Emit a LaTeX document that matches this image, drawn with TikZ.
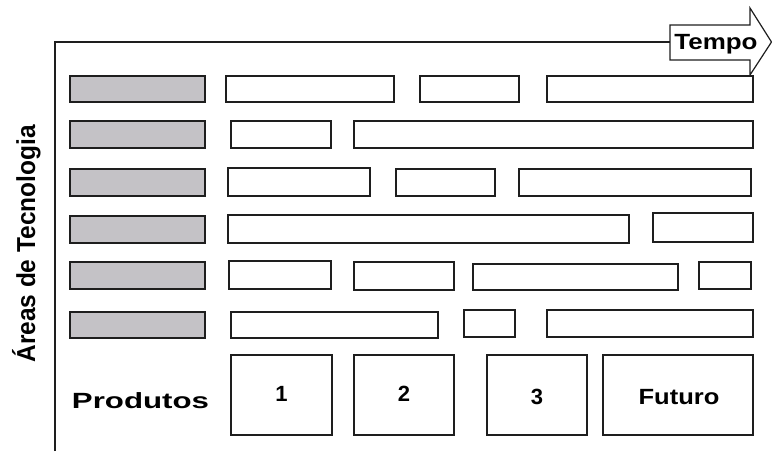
\documentclass[tikz,border=0pt]{standalone}
\usepackage{fontspec}
\usepackage{graphicx}
\setmainfont{Liberation Sans}
\definecolor{barfill}{RGB}{196,194,198}
\definecolor{ink}{RGB}{30,30,30}
\newcommand\mybox[6]{\node[#1, minimum width={(#4-#3)*1pt}, minimum height={(#6-#5)*1pt}] (#2) at ({(#3+#4)/2},{(#5+#6)/2}) {};}
\begin{document}
\begin{tikzpicture}[x=1pt,y=-1pt,
  bar/.style={draw=ink, line width=1.6pt, fill=white, inner sep=0pt, outer sep=0pt},
  gbar/.style={bar, fill=barfill},
  lbl/.style={inner sep=0pt, anchor=base, text=black, font=\bfseries\fontsize{22}{22}\selectfont}]
\useasboundingbox (0,0) rectangle (772,451);
% frame
\coordinate (corner) at (55,42);
\coordinate (bottom) at (55,451);
% arrow
\draw[draw=ink, line width=1.2pt, fill=white] (670,25) -- (750,25) -- (750,8) -- (771.5,42) -- (750,75) -- (750,60) -- (670,60) -- cycle;
\coordinate (arrowleft) at (670,42);
\draw[draw=ink, line width=1.6pt] (bottom) -- (corner) -- (arrowleft);
\node[lbl] (tempo) at (716,49) {\scalebox{1.18}[1]{Tempo}};
% rows
\mybox{gbar}{g1}{70}{205}{76}{102}
\mybox{bar}{r1a}{226}{394}{76}{102}
\mybox{bar}{r1b}{420}{519}{76}{102}
\mybox{bar}{r1c}{547}{753}{76}{102}
\mybox{gbar}{g2}{70}{205}{121}{148}
\mybox{bar}{r2a}{231}{331}{121}{148}
\mybox{bar}{r2b}{354}{753}{121}{148}
\mybox{gbar}{g3}{70}{205}{169}{196}
\mybox{bar}{r3a}{228}{370}{168}{196}
\mybox{bar}{r3b}{396}{495}{169}{196}
\mybox{bar}{r3c}{519}{751}{169}{196}
\mybox{gbar}{g4}{70}{205}{216}{243}
\mybox{bar}{r4a}{228}{629}{215}{243}
\mybox{bar}{r4b}{653}{753}{213}{242}
\mybox{gbar}{g5}{70}{205}{262}{289}
\mybox{bar}{r5a}{229}{331}{261}{289}
\mybox{bar}{r5b}{354}{454}{262}{290}
\mybox{bar}{r5c}{473}{678}{264}{290}
\mybox{bar}{r5d}{699}{751}{262}{289}
\mybox{gbar}{g6}{70}{205}{312}{338}
\mybox{bar}{r6a}{231}{438}{312}{338}
\mybox{bar}{r6b}{464}{515}{310}{337}
\mybox{bar}{r6c}{547}{753}{310}{337}
% products
\mybox{bar}{p1}{231}{332}{355}{435}
\mybox{bar}{p2}{354}{454}{355}{435}
\mybox{bar}{p3}{487}{587}{355}{435}
\mybox{bar}{p4}{603}{753}{355}{435}
\node[lbl] (prod) at (140.5,408) {\scalebox{1.42}[1]{Produtos}};
\node[lbl] (n1) at (281.5,401) {1};
\node[lbl] (n2) at (404,401) {2};
\node[lbl] (n3) at (537,404) {3};
\node[lbl] (fut) at (679,404) {\scalebox{1.16}[1]{Futuro}};
% vertical label
\node[inner sep=0pt, anchor=base, rotate=90, font=\bfseries\fontsize{26}{26}\selectfont] (areas) at (35,244) {\scalebox{0.94}[1]{Áreas de Tecnologia}};
\end{tikzpicture}
\end{document}
